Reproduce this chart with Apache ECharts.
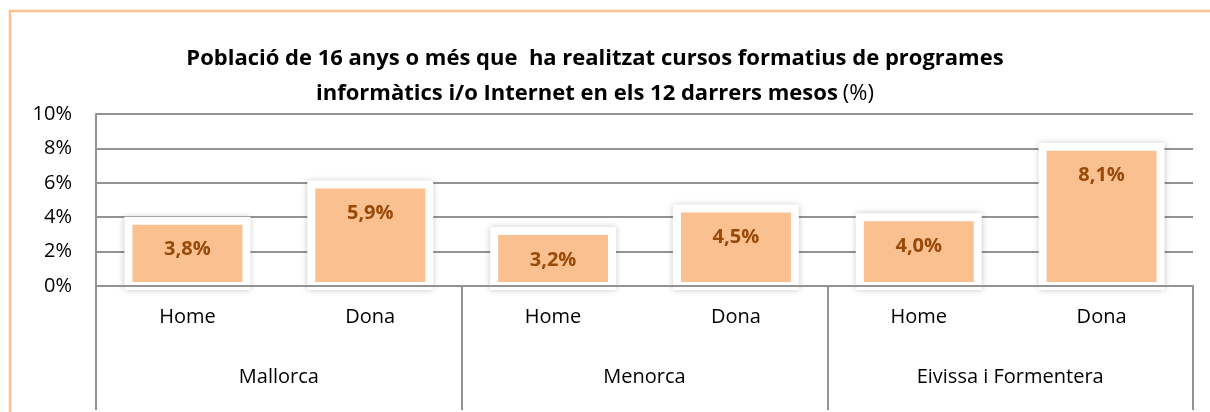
<!DOCTYPE html>
<html>
<head>
<meta charset="utf-8">
<script src="https://cdn.jsdelivr.net/npm/echarts@6/dist/echarts.min.js"></script>
<style>
  html, body { margin: 0; padding: 0; background: #fff; }
  #chart { width: 1210px; height: 412px; }
</style>
</head>
<body>
<div id="chart"></div>
<script>
var sexes = ['Home', 'Dona', 'Home', 'Dona', 'Home', 'Dona'];
var islands = ['Mallorca', 'Menorca', 'Eivissa i Formentera'];
var values = [3.8, 5.9, 3.2, 4.5, 4.0, 8.1];

var font = 'Open Sans';
var gridColor = '#939393';
var border = 4; // meitat del marc blanc, com a Excel

// barra amb marc blanc centrat a la vora i ombra suau
function renderBar(params, api) {
    var base = api.coord([api.value(0), 0]);
    var top = api.coord([api.value(0), api.value(1)]);
    var w = api.size([1, 0])[0] * 0.645;
    var h = base[1] - top[1];
    var x = top[0] - w / 2;
    var txt = api.value(1).toFixed(1).replace('.', ',') + '%';
    return {
        type: 'group',
        children: [
            {
                type: 'rect',
                shape: { x: x - border, y: top[1] - border, width: w + border * 2, height: h + border * 2 },
                style: { fill: '#fff', shadowBlur: 6, shadowColor: 'rgba(0,0,0,0.22)' }
            },
            {
                type: 'rect',
                shape: { x: x + border, y: top[1] + border, width: w - border * 2, height: h - border * 2 },
                style: { fill: '#FAC090' }
            },
            {
                type: 'text',
                x: top[0],
                y: top[1] + 29,
                style: {
                    text: txt,
                    align: 'center',
                    verticalAlign: 'middle',
                    fontFamily: font,
                    fontWeight: 'bold',
                    fontSize: 20,
                    fill: '#984807'
                }
            }
        ]
    };
}

var myChart = echarts.init(document.getElementById('chart'));
myChart.setOption({
    animation: false,
    title: {
        text: '{b|Població de 16 anys o més que  ha realitzat cursos formatius de programes}\n{b|informàtics i/o Internet en els 12 darrers mesos} {n|(%)}',
        left: 590,
        top: 36,
        textAlign: 'center',
        textStyle: {
            rich: {
                b: { fontFamily: font, fontWeight: 'bold', fontSize: 22, color: '#000', lineHeight: 35 },
                n: { fontFamily: font, fontWeight: 'normal', fontSize: 22, color: '#000', lineHeight: 35 }
            }
        }
    },
    // marc taronja de la gràfica
    graphic: [{
        type: 'rect',
        shape: { x: 10, y: 11, width: 1230, height: 430 },
        style: { fill: 'none', stroke: '#FAC090', lineWidth: 2.5 },
        silent: true
    }],
    grid: { left: 96, right: 17, top: 114, bottom: 126 },
    xAxis: [
        {
            type: 'category',
            data: sexes,
            position: 'bottom',
            z: 5,
            axisLine: { lineStyle: { color: gridColor, width: 2 } },
            axisTick: { show: false },
            axisLabel: { fontFamily: font, fontSize: 20, color: '#000', margin: 21, interval: 0 }
        },
        {
            type: 'category',
            data: islands,
            position: 'bottom',
            z: 5,
            axisLine: { show: false },
            axisTick: { show: true, length: 124, interval: 0, lineStyle: { color: gridColor, width: 2 } },
            axisLabel: { fontFamily: font, fontSize: 20, color: '#000', margin: 81, interval: 0 }
        }
    ],
    yAxis: {
        type: 'value',
        min: 0,
        max: 10,
        interval: 2,
        axisLine: { show: true, lineStyle: { color: gridColor, width: 2 } },
        axisTick: { show: false },
        splitLine: { lineStyle: { color: gridColor, width: 2 } },
        axisLabel: {
            fontFamily: font, fontSize: 20, color: '#000', margin: 24,
            formatter: '{value}%'
        }
    },
    series: [{
        type: 'custom',
        xAxisIndex: 0,
        renderItem: renderBar,
        encode: { x: 0, y: 1 },
        data: values.map(function (v, i) { return [i, v]; })
    }]
});
</script>
</body>
</html>
